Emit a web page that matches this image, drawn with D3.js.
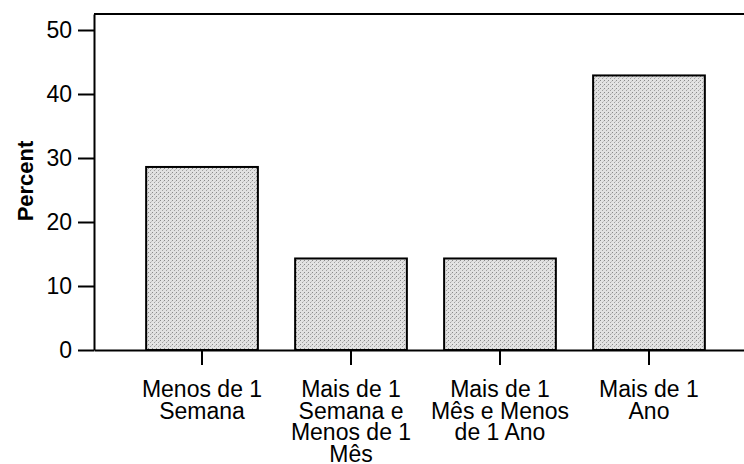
<!DOCTYPE html>
<html>
<head>
<meta charset="utf-8">
<script src="https://cdn.jsdelivr.net/npm/d3@7"></script>
<style>
  body { margin: 0; background: #fff; }
  svg { display: block; font-family: "Liberation Sans", Arial, sans-serif; }
</style>
</head>
<body>
<script>
// Chart values.
var categories = [
    "Menos de 1\nSemana",
    "Mais de 1\nSemana e\nMenos de 1\nMês",
    "Mais de 1\nMês e Menos\nde 1 Ano",
    "Mais de 1\nAno"
];
var percents = [28.6, 14.3, 14.3, 42.9];
var y_ticks = [0, 10, 20, 30, 40, 50];

var svg_width = 744;
var svg_height = 464;

// Plot frame in pixels; the right side runs past the window edge.
var plot = { left: 94, right: 757, top: 14, bottom: 350 };

var svg = d3.select("body")
    .append("svg")
    .attr("width", svg_width)
    .attr("height", svg_height);

var x_axis = d3.scaleBand()
    .domain(categories)
    .range([plot.left, plot.right])
    .paddingInner(0.25)
    .paddingOuter(0.35);

var y_axis = d3.scaleLinear()
    .domain([0, 52.5])
    .range([plot.bottom, plot.top]);

// Stippled grey fill like the scanned bars.
var defs = svg.append("defs");
var pattern = defs.append("pattern")
    .attr("id", "stipple")
    .attr("width", 4)
    .attr("height", 4)
    .attr("patternUnits", "userSpaceOnUse");
pattern.append("rect")
    .attr("width", 4).attr("height", 4)
    .attr("fill", "#e2e2e2");
pattern.append("rect")
    .attr("x", 0).attr("y", 0).attr("width", 1).attr("height", 1)
    .attr("fill", "#8a8a8a");
pattern.append("rect")
    .attr("x", 2).attr("y", 2).attr("width", 1).attr("height", 1)
    .attr("fill", "#a0a0a0");
pattern.append("rect")
    .attr("x", 3).attr("y", 1).attr("width", 1).attr("height", 1)
    .attr("fill", "#c4c4c4");

// Top border of the frame.
svg.append("line")
    .attr("x1", plot.left).attr("x2", plot.right)
    .attr("y1", plot.top).attr("y2", plot.top)
    .attr("stroke", "#000")
    .attr("stroke-width", 2);

// Bars.
svg.append("g")
    .selectAll("rect")
    .data(percents)
    .enter()
    .append("rect")
    .attr("x", function (d, i) { return x_axis(categories[i]); })
    .attr("y", function (d) { return y_axis(d); })
    .attr("width", x_axis.bandwidth())
    .attr("height", function (d) { return y_axis(0) - y_axis(d); })
    .attr("fill", "url(#stipple)")
    .attr("stroke", "#000")
    .attr("stroke-width", 2);

// Y axis.
var y_g = svg.append("g")
    .attr("transform", "translate(" + plot.left + ",0)")
    .call(d3.axisLeft(y_axis)
        .tickValues(y_ticks)
        .tickSize(16)
        .tickSizeOuter(0)
        .tickPadding(6));
y_g.select(".domain").attr("stroke-width", 2);
y_g.selectAll(".tick line").attr("stroke-width", 2);
y_g.selectAll(".tick text")
    .attr("font-size", "23px")
    .attr("font-family", "Liberation Sans, Arial, sans-serif")
    .attr("fill", "#000");

// X axis with multi-line category labels.
var x_g = svg.append("g")
    .attr("transform", "translate(0," + plot.bottom + ")")
    .call(d3.axisBottom(x_axis)
        .tickSize(15)
        .tickSizeOuter(0));
x_g.select(".domain").attr("stroke-width", 2);
x_g.selectAll(".tick line").attr("stroke-width", 2);
x_g.selectAll(".tick text").remove();
x_g.selectAll(".tick")
    .append("text")
    .attr("fill", "#000")
    .attr("font-size", "23px")
    .attr("font-family", "Liberation Sans, Arial, sans-serif")
    .attr("text-anchor", "middle")
    .selectAll("tspan")
    .data(function (d) { return d.split("\n"); })
    .enter()
    .append("tspan")
    .attr("x", 0)
    .attr("y", function (d, i) { return 47 + i * 21.5; })
    .text(function (d) { return d; });

// Axis title.
svg.append("text")
    .attr("transform", "translate(33," + 181 + ") rotate(-90)")
    .attr("text-anchor", "middle")
    .attr("font-size", "22px")
    .attr("font-weight", "bold")
    .text("Percent");
</script>
</body>
</html>
